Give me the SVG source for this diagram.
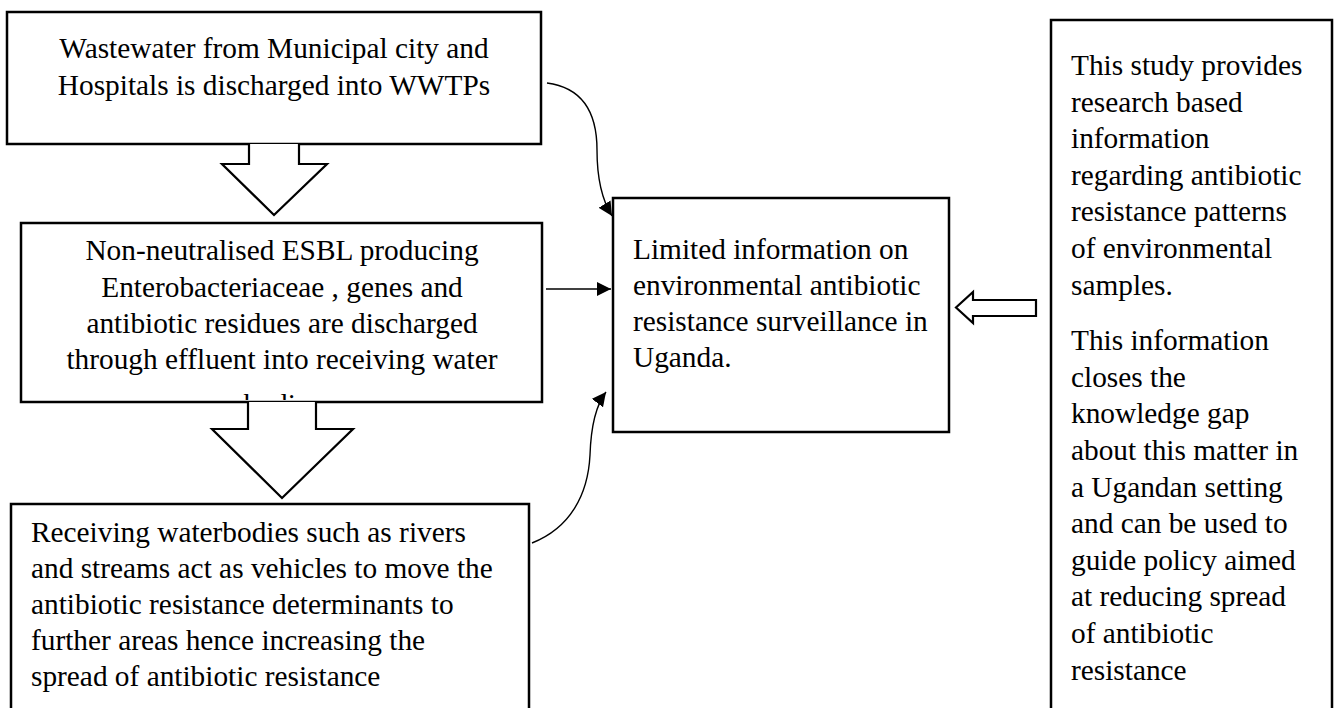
<svg xmlns="http://www.w3.org/2000/svg" width="1338" height="708" viewBox="0 0 1338 708">
<style>
.box{fill:#fff;stroke:#000;stroke-width:2.5}
.blk{fill:#fff;stroke:#000;stroke-width:2.2;stroke-linejoin:miter}
.con{fill:none;stroke:#000;stroke-width:1.4}
text{font-family:"Liberation Serif","Times New Roman",serif;font-size:29.33px;fill:#000}
.c{text-anchor:middle}
</style>
<defs>
<marker id="ah" viewBox="0 0 14 14" refX="14" refY="7" markerWidth="14" markerHeight="14" markerUnits="userSpaceOnUse" orient="auto">
<path d="M0,0 L14,7 L0,14 z" fill="#000"/>
</marker>
<clipPath id="clip2"><rect x="22" y="224" width="519" height="176"/></clipPath>
</defs>
<rect width="1338" height="708" fill="#fff"/>
<g id="connectors">
<path class="con" d="M547,83 C585,88 597,115 597,150 C597,180 602,200 612,216" marker-end="url(#ah)"/>
<path class="con" d="M546,289 L611,289" marker-end="url(#ah)"/>
<path class="con" d="M532,543 C570,528 588,495 590,455 C591,425 596,405 606,392" marker-end="url(#ah)"/>
</g>
<g id="node-wastewater">
<rect class="box" x="7" y="12" width="534" height="132"/>
<text class="c" x="274" y="58">Wastewater from Municipal city and</text>
<text class="c" x="274" y="95">Hospitals is discharged into WWTPs</text>
</g>
<g id="arrow-1">
<polyline class="blk" points="249,144 249,164 222,164 274,215 327,164 299,164 299,144"/>
</g>
<g id="node-esbl">
<rect class="box" x="21" y="223" width="521" height="179"/>
<g clip-path="url(#clip2)">
<text class="c" x="282" y="260">Non-neutralised ESBL producing</text>
<text class="c" x="282" y="297">Enterobacteriaceae , genes and</text>
<text class="c" x="282" y="333">antibiotic residues are discharged</text>
<text class="c" x="282" y="369">through effluent into receiving water</text>
<text class="c" x="282" y="414">bodies</text>
</g>
</g>
<g id="arrow-2">
<polyline class="blk" points="248,402 248,429 212,429 282,498 353,429 316,429 316,402"/>
</g>
<g id="node-receiving">
<rect class="box" x="11" y="504" width="518" height="230"/>
<text x="31" y="542">Receiving waterbodies such as rivers</text>
<text x="31" y="578">and streams act as vehicles to move the</text>
<text x="31" y="614">antibiotic resistance determinants to</text>
<text x="31" y="650">further areas hence increasing the</text>
<text x="31" y="686">spread of antibiotic resistance</text>
</g>
<g id="node-limited">
<rect class="box" x="613" y="198" width="336" height="234"/>
<text x="633" y="259">Limited information on</text>
<text x="633" y="295">environmental antibiotic</text>
<text x="633" y="331">resistance surveillance in</text>
<text x="633" y="367">Uganda.</text>
</g>
<g id="arrow-3">
<polygon class="blk" points="1036,300 973,300 973,292 956,307.5 973,323 973,316 1036,316"/>
</g>
<g id="node-study">
<rect class="box" x="1051" y="20" width="281" height="720"/>
<text x="1071" y="75">This study provides</text>
<text x="1071" y="111.6">research based</text>
<text x="1071" y="148.2">information</text>
<text x="1071" y="184.8">regarding antibiotic</text>
<text x="1071" y="221.4">resistance patterns</text>
<text x="1071" y="258">of environmental</text>
<text x="1071" y="294.6">samples.</text>
<text x="1071" y="350.2">This information</text>
<text x="1071" y="386.8">closes the</text>
<text x="1071" y="423.4">knowledge gap</text>
<text x="1071" y="460">about this matter in</text>
<text x="1071" y="496.6">a Ugandan setting</text>
<text x="1071" y="533.2">and can be used to</text>
<text x="1071" y="569.8">guide policy aimed</text>
<text x="1071" y="606.4">at reducing spread</text>
<text x="1071" y="643">of antibiotic</text>
<text x="1071" y="679.6">resistance</text>
</g>
</svg>
